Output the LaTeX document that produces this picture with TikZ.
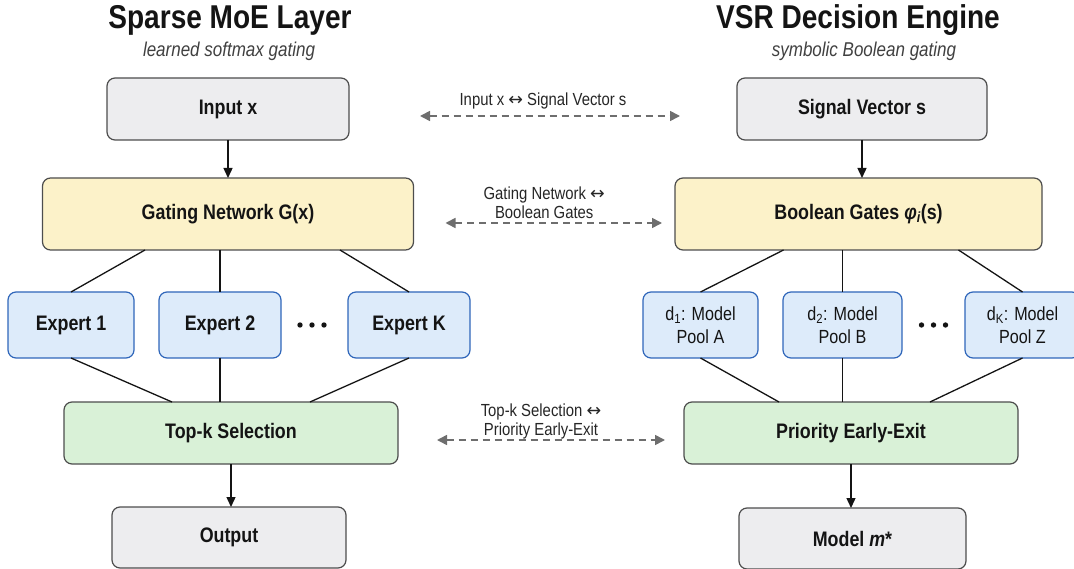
\documentclass[tikz,border=0pt]{standalone}
\usepackage{fontspec}
\setmainfont{Liberation Sans}[FakeStretch=0.85]
\newfontfamily\arrowfont{DejaVu Sans}
\newcommand{\pairsym}{{\arrowfont ↔}}
\usetikzlibrary{arrows.meta, positioning, calc}

\definecolor{boxline}{HTML}{4D4D4D}
\definecolor{iofill}{HTML}{EDEDEF}
\definecolor{gatefill}{HTML}{FCF2C9}
\definecolor{expfill}{HTML}{DDEBFA}
\definecolor{expline}{HTML}{2F66BA}
\definecolor{selfill}{HTML}{D9F1D7}
\definecolor{pairgray}{HTML}{6E6E6E}
\definecolor{ink}{HTML}{141414}

\begin{document}
\begin{tikzpicture}[x=1pt, y=-1pt,
    node distance=38pt,
    >={Triangle[length=10pt,width=9pt]},
    box/.style={draw=boxline, line width=1.2pt, rounded corners=8pt, align=center,
                text=ink, inner sep=2pt, outer sep=0pt,
                font=\fontsize{21}{24}\selectfont\bfseries},
    iobox/.style={box, fill=iofill, minimum height=62pt},
    gatebox/.style={box, fill=gatefill, minimum height=72pt},
    expbox/.style={box, fill=expfill, draw=expline, minimum height=66pt},
    poolbox/.style={expbox, font=\fontsize{19}{23}\selectfont},
    selbox/.style={box, fill=selfill, minimum height=62pt},
    headline/.style={anchor=base, text=ink, font=\fontsize{33}{38}\selectfont\bfseries},
    subhead/.style={anchor=base, text=black!75, font=\fontsize{20}{24}\selectfont\itshape},
    mapnote/.style={align=center, text=black!85, inner sep=1pt,
                    font=\fontsize{17.5}{19}\selectfont},
    flow/.style={->, draw=ink, line width=1.4pt},
    wire/.style={draw=ink, line width=1.3pt},
    pairing/.style={{Triangle[length=10pt,width=10pt]}-{Triangle[length=10pt,width=10pt]},
                    draw=pairgray, line width=1.6pt, dash pattern=on 7pt off 5pt}]

    \useasboundingbox (0,0) rectangle (1074,569);

    % Sparse MoE side
    \node[headline] (moeT) at (230,29) {Sparse MoE Layer};
    \node[subhead]  (moeS) at (229,57) {learned softmax gating};

    \node[iobox, minimum width=242pt]   (inp)  at (228,109)          {Input x};
    \node[gatebox, minimum width=371pt] (gnet) [below=38pt of inp]   {Gating Network G(x)};

    \node[expbox, minimum width=122pt]  (e2)   [below=42pt of gnet, xshift=-8pt] {Expert 2};
    \node[expbox, minimum width=126pt]  (e1)   [left=25pt of e2]     {Expert 1};
    \node[expbox, minimum width=122pt]  (eK)   [right=67pt of e2]    {Expert K};

    \node[selbox, minimum width=334pt]  (topk) [below=44pt of e2, xshift=11pt] {Top-k Selection};
    \node[iobox, minimum width=234pt, minimum height=61pt]
                                        (out)  [below=43pt of topk, xshift=-2pt] {Output};

    % VSR side
    \node[headline] (vsrT) at (858,29) {VSR Decision Engine};
    \node[subhead]  (vsrS) at (864,57) {symbolic Boolean gating};

    \node[iobox, minimum width=250pt]   (sig)   at (862,109)         {Signal Vector s};
    \node[gatebox, minimum width=367pt] (bgate) [below=38pt of sig, xshift=-3.5pt]
                                        {Boolean Gates \textit{φ\textsubscript{i}}(s)};

    \node[poolbox, minimum width=119pt] (d2)    [below=42pt of bgate, xshift=-16pt]
                                        {d\textsubscript{2}: Model\\Pool B};
    \node[poolbox, minimum width=115pt] (d1)    [left=25pt of d2]  {d\textsubscript{1}: Model\\Pool A};
    \node[poolbox, minimum width=115pt] (dK)    [right=63pt of d2] {d\textsubscript{K}: Model\\Pool Z};

    \node[selbox, minimum width=334pt]  (pexit) [below=44pt of d2, xshift=8.5pt] {Priority Early-Exit};
    \node[iobox, minimum width=227pt, minimum height=61pt]
                                        (model) [below=44pt of pexit, xshift=1.5pt] {Model \textit{m}*};

    % ellipses between the last two boxes
    \coordinate (gapL) at ($(e2.east)!.5!(eK.west)$);
    \coordinate (gapR) at ($(d2.east)!.5!(dK.west)$);
    \foreach \dx in {-12,0,12} {
        \fill[ink] ($(gapL)+(\dx pt-2.5pt,0)$) circle (2.7pt);
        \fill[ink] ($(gapR)+(\dx pt,0)$) circle (2.7pt);
    }

    \draw[flow] (inp) -- (gnet);
    \draw[flow] (topk.south) -- (topk.south |- out.north);
    \draw[flow] (sig.south) -- (sig.south |- bgate.north);
    \draw[flow] (pexit.south) -- (pexit.south |- model.north);

    \draw[wire] ($(gnet.south)+(-83pt,0)$) -- (e1.north);
    \draw[wire] (gnet.south -| e2.north)   -- (e2.north);
    \draw[wire] ($(gnet.south)+(112pt,0)$) -- (eK.north);
    \draw[wire] (e1.south) -- ($(topk.north)+(-59pt,0)$);
    \draw[wire] (e2.south) -- (e2.south |- topk.north);
    \draw[wire] (eK.south) -- ($(topk.north)+(79pt,0)$);

    \draw[wire] ($(bgate.south)+(-75pt,0)$) -- (d1.north);
    \draw[wire] (bgate.south -| d2.north)   -- (d2.north);
    \draw[wire] ($(bgate.south)+(100pt,0)$) -- (dK.north);
    \draw[wire] (d1.south) -- ($(pexit.north)+(-72pt,0)$);
    \draw[wire] (d2.south) -- (d2.south |- pexit.north);
    \draw[wire] (dK.south) -- ($(pexit.north)+(79pt,0)$);

    % correspondences
    \draw[pairing, shorten <=71pt, shorten >=57pt] ([yshift=-7pt]inp.east) -- ([yshift=-7pt]sig.west)
        node[mapnote, midway, above=5pt] (m1) {Input x \pairsym{} Signal Vector s};
    \draw[pairing, shorten <=32pt, shorten >=13pt] ([yshift=-9pt]gnet.east) -- ([yshift=-9pt]bgate.west)
        node[mapnote, midway, above=3pt] (m2) {Gating Network \pairsym\\Boolean Gates};
    \draw[pairing, shorten <=39pt, shorten >=19pt] ([yshift=-7pt]topk.east) -- ([yshift=-7pt]pexit.west)
        node[mapnote, midway, above=-1pt] (m3) {Top-k Selection \pairsym\\Priority Early-Exit};
\end{tikzpicture}
\end{document}
